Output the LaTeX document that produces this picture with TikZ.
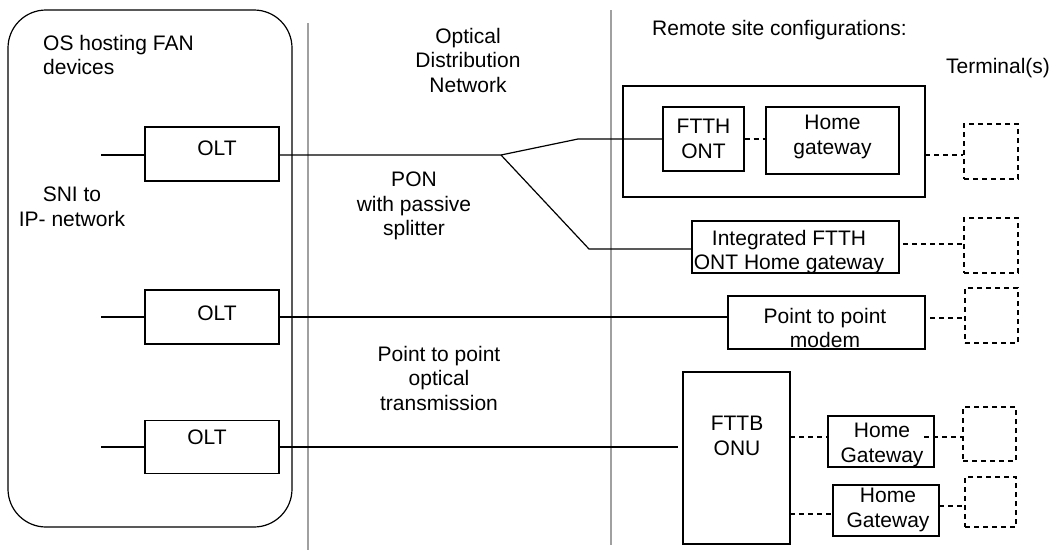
\documentclass[tikz,border=0pt]{standalone}
\usepackage{fontspec}
\setmainfont{Liberation Sans}
\definecolor{sepgray}{RGB}{160,160,160}
\begin{document}
\begin{tikzpicture}[x=1pt,y=-1pt,
  box/.style={draw, line width=1.2pt, inner sep=0pt, rectangle},
  term/.style={draw, line width=1.2pt, inner sep=0pt, rectangle, dash pattern=on 5pt off 4pt},
  conn/.style={line width=1.2pt},
  dconn/.style={line width=1.2pt, dash pattern=on 5pt off 4pt},
  lbl/.style={align=center, inner sep=0pt, font=\fontsize{21}{24.5}\selectfont},
  sep/.style={draw=sepgray, line width=1.4pt}]
\useasboundingbox (0,0) rectangle (1058,550);
% central office
\node[box, rounded corners=38pt, minimum width=284pt, minimum height=517pt] (co) at (150,268.5) {};
\draw[sep] (308,23) coordinate (s1a) -- (308,550) coordinate (s1b);
\draw[sep] (611,10) coordinate (s2a) -- (611,545) coordinate (s2b);
% labels
\node[lbl, align=left, anchor=west] (coname) at (43,55) {OS hosting FAN\\devices};
\node[lbl] (sni) at (72,207) {SNI to\\IP- network};
\node[lbl] (odn) at (468,60) {Optical\\Distribution\\Network};
\node[lbl] (pon) at (414,206) {PON\\with passive\\splitter};
\node[lbl] (p2p) at (439,378) {Point to point\\optical\\transmission};
\node[lbl, anchor=west] (remote) at (652,30) {Remote site configurations:};
\node[lbl] (termlbl) at (998,68) {Terminal(s)};
% OLTs
\node[box, minimum width=134pt, minimum height=54pt] (olt1) at (212,154) {};
\node[lbl] (olt1t) at (217,148) {OLT};
\node[box, minimum width=134pt, minimum height=54pt] (olt2) at (212,317) {};
\node[lbl] (olt2t) at (217,313) {OLT};
\node[box, minimum width=134pt, minimum height=53pt] (olt3) at (212,447) {};
\node[lbl] (olt3t) at (207,437) {OLT};
\coordinate (in1) at (101,155);
\coordinate (in2) at (101,317);
\coordinate (in3) at (101,447);
\draw[conn] (in1) -- (in1 -| olt1.west);
\draw[conn] (in2) -- (in2 -| olt2.west);
\draw[conn] (in3) -- (in3 -| olt3.west);
% remote site boxes
\node[box, minimum width=302pt, minimum height=111pt] (outer) at (774,141.5) {};
\node[box, minimum width=81pt, minimum height=64pt] (ont) at (703.5,139) {};
\node[lbl] (ontt) at (703.5,139) {FTTH\\ONT};
\node[box, minimum width=133pt, minimum height=67pt] (hg) at (832.5,140.5) {};
\node[lbl] (hgt) at (832.5,137) {Home\\gateway};
\node[box, minimum width=207pt, minimum height=52pt] (integ) at (795.5,247) {};
\node[lbl] (integt) at (789,252) {Integrated FTTH\\ONT Home gateway};
\node[box, minimum width=197pt, minimum height=53pt] (modem) at (826.5,322.5) {};
\node[lbl] (modemt) at (825,328) {Point to point\\modem};
\node[box, minimum width=107pt, minimum height=172pt] (onu) at (736.5,458) {};
\node[lbl] (onut) at (737,436) {FTTB\\ONU};
\node[box, minimum width=106pt, minimum height=51pt] (hgw1) at (881,441.5) {};
\node[lbl] (hgw1t) at (882,445) {Home\\Gateway};
\node[box, minimum width=106pt, minimum height=51pt] (hgw2) at (886,510.5) {};
\node[lbl] (hgw2t) at (888,510) {Home\\Gateway};
% terminals
\node[term, minimum width=54pt, minimum height=55pt] (t1) at (991,151.5) {};
\node[term, minimum width=54pt, minimum height=55pt] (t2) at (991,245.5) {};
\node[term, minimum width=53pt, minimum height=55pt] (t3) at (991.5,315.5) {};
\node[term, minimum width=53pt, minimum height=54pt] (t4) at (989.5,434) {};
\node[term, minimum width=51pt, minimum height=50pt] (t5) at (990.5,502) {};
% PON
\coordinate (split) at (501,155);
\coordinate (k1) at (578,139);
\coordinate (k2) at (589,249);
\draw[conn] (olt1.east |- split) -- (split) -- (k1) -- (k1 -| ont.west);
\draw[conn] (split) -- (k2) -- (k2 -| integ.west);
% point to point
\draw[conn] (olt2.east) -- (olt2.east -| modem.west);
\coordinate (onuin) at (678,447);
\draw[conn] (olt3.east) -- (onuin);
% dashed links
\draw[dconn] (ont.east) -- (ont.east -| hg.west);
\coordinate (d1) at (925,155);
\draw[dconn] (d1) -- (d1 -| t1.west);
\coordinate (d2) at (903,244);
\draw[dconn] (d2) -- (d2 -| t2.west);
\coordinate (d3) at (930,318);
\draw[dconn] (d3) -- (d3 -| t3.west);
\coordinate (d4) at (790,437);
\draw[dconn] (d4) -- (d4 -| hgw1.west);
\coordinate (d5) at (924,437);
\draw[dconn] (d5) -- (d5 -| t4.west);
\coordinate (d6) at (790,514);
\draw[dconn] (d6) -- (d6 -| hgw2.west);
\coordinate (d7) at (939,506);
\draw[dconn] (d7) -- (d7 -| t5.west);
\end{tikzpicture}
\end{document}
